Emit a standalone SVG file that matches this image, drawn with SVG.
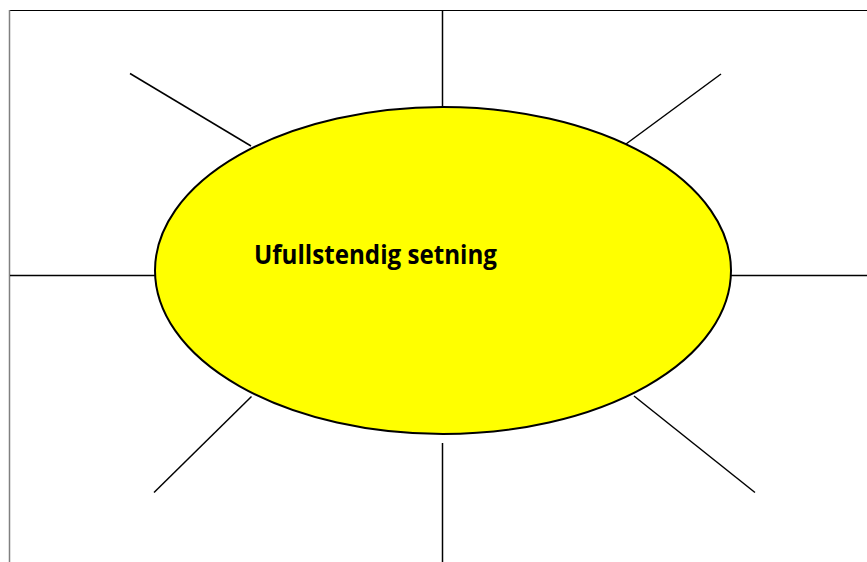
<svg xmlns="http://www.w3.org/2000/svg" width="867" height="562" viewBox="0 0 867 562">
<style>
.ln{stroke:#000;stroke-width:1.5;fill:none}
.lbl{font-family:"Open Sans","Liberation Sans",Arial,sans-serif;font-weight:bold;font-size:27px;fill:#000}
</style>
<rect width="867" height="562" fill="#fff"/>
<g id="frame">
<line x1="9" y1="10.5" x2="867" y2="10.5" stroke="#000" stroke-width="1"/>
<line x1="9.5" y1="10" x2="9.5" y2="562" stroke="#808080" stroke-width="1.5"/>
</g>
<g id="connectors">
<line class="ln" x1="442.5" y1="11" x2="442.5" y2="108"/>
<line class="ln" x1="442.5" y1="443" x2="442.5" y2="562"/>
<line class="ln" x1="10" y1="275.5" x2="155" y2="275.5"/>
<line class="ln" x1="731" y1="275.5" x2="867" y2="275.5"/>
<line class="ln" x1="130" y1="73.5" x2="251" y2="146"/>
<line class="ln" x1="721" y1="74" x2="626" y2="144"/>
<line class="ln" x1="154" y1="492.5" x2="251.5" y2="396.5"/>
<line class="ln" x1="634" y1="396" x2="755" y2="492.5"/>
</g>
<g id="center">
<ellipse cx="443" cy="270.5" rx="288" ry="163.5" fill="#ffff00" stroke="#000" stroke-width="2"/>
<text class="lbl" x="254" y="264" textLength="243" lengthAdjust="spacingAndGlyphs">Ufullstendig setning</text>
</g>
</svg>
